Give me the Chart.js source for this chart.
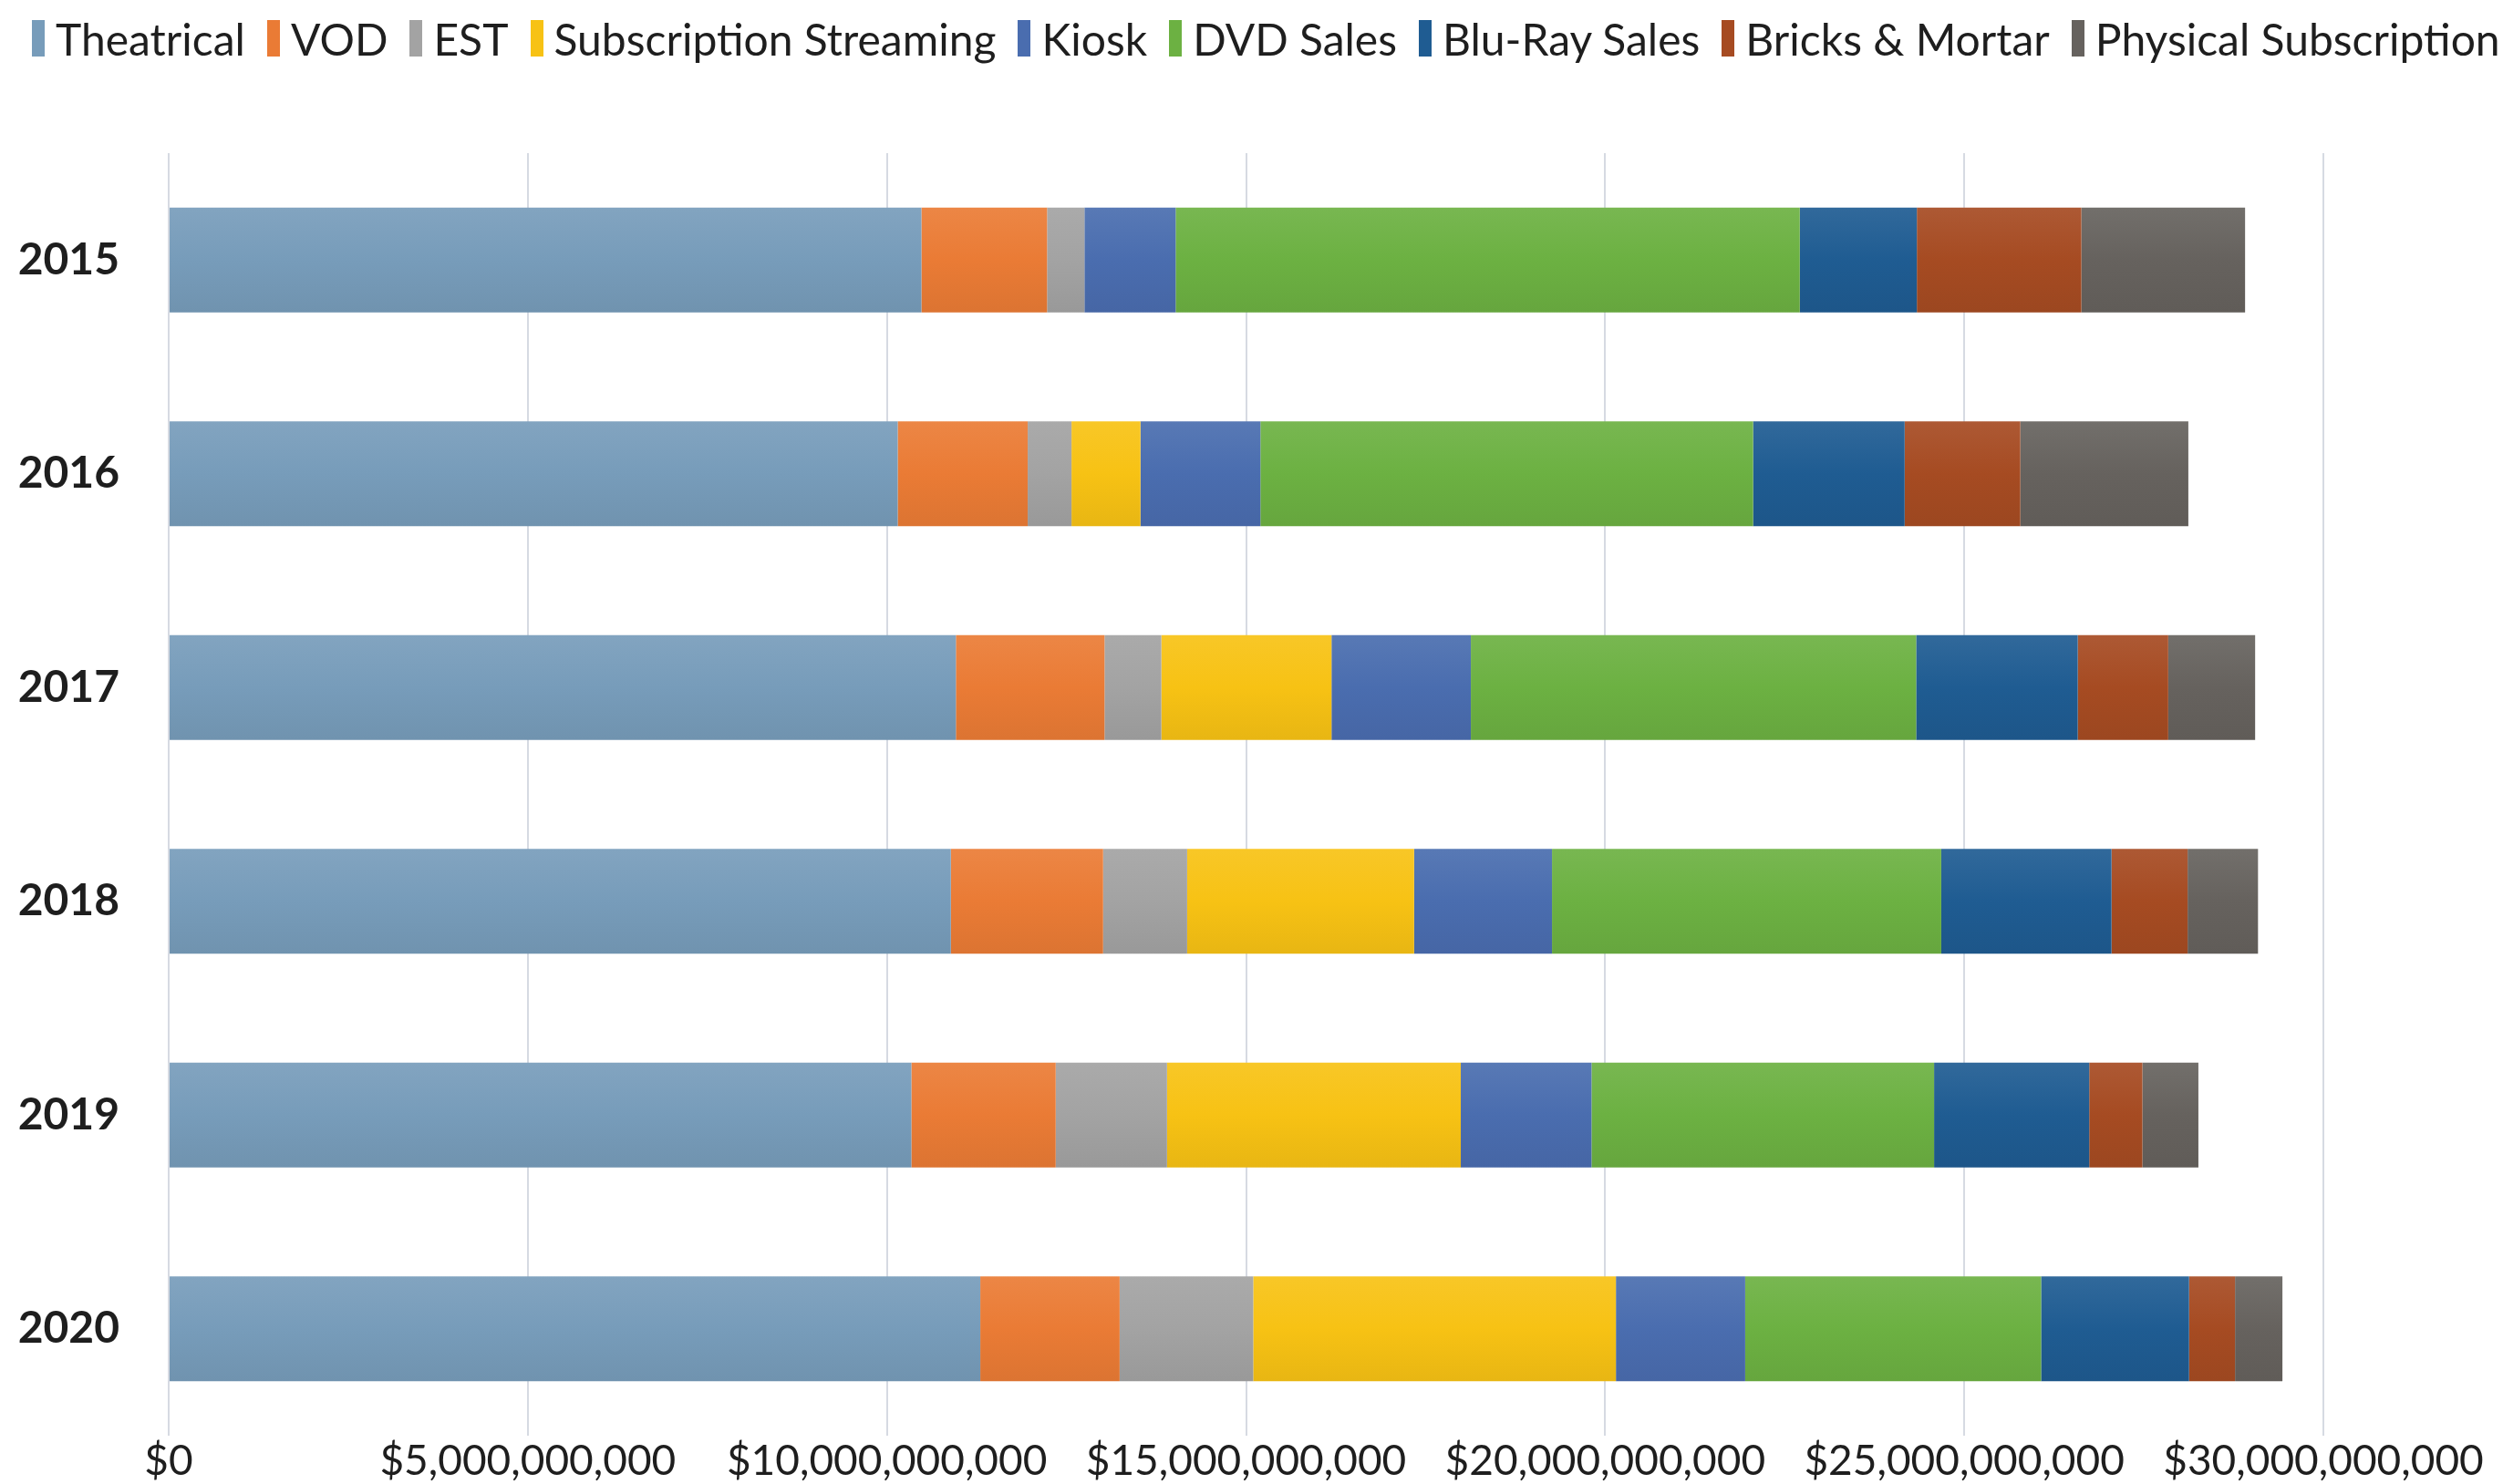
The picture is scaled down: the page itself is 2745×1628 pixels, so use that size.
<!DOCTYPE html>
<html>
<head>
<meta charset="utf-8">
<script src="https://cdn.jsdelivr.net/npm/chart.js@4/dist/chart.umd.min.js"></script>
<style>
html,body{margin:0;padding:0;background:#fff;overflow:hidden;width:2745px;height:1628px}
#wrap{position:relative;width:2745px;height:1628px;overflow:hidden}
canvas{position:absolute;left:0;top:0}
#legend{position:absolute;left:35px;top:10px;height:64px;display:flex;align-items:center;white-space:nowrap;font-family:Lato,'Open Sans',sans-serif;font-size:48px;color:#1e1e1e}
#legend .item{display:flex;align-items:center;margin-right:24px;flex-shrink:0}
#legend .box{width:14px;height:40px;margin-right:12px;flex-shrink:0}
</style>
</head>
<body>
<div id="wrap">
<canvas id="c" width="2745" height="1628"></canvas>
<div id="legend"></div>
</div>
<script>
const categories = ['2015', '2016', '2017', '2018', '2019', '2020'];

const theatrical   = [10480000000, 10150000000, 10960000000, 10890000000, 10340000000, 11300000000];
const vod          = [1750000000, 1810000000, 2070000000, 2120000000, 2010000000, 1940000000];
const est          = [520000000, 610000000, 790000000, 1170000000, 1550000000, 1860000000];
const subscription = [0, 960000000, 2370000000, 3160000000, 4090000000, 5050000000];
const kiosk        = [1270000000, 1670000000, 1940000000, 1920000000, 1820000000, 1800000000];
const dvdSales     = [8690000000, 6860000000, 6200000000, 5420000000, 4770000000, 4120000000];
const bluRaySales  = [1630000000, 2110000000, 2250000000, 2370000000, 2160000000, 2060000000];
const bricksMortar = [2290000000, 1610000000, 1260000000, 1060000000, 740000000, 640000000];
const physicalSub  = [2280000000, 2340000000, 1210000000, 980000000, 780000000, 660000000];

const seriesNames = ['Theatrical', 'VOD', 'EST', 'Subscription Streaming', 'Kiosk', 'DVD Sales', 'Blu-Ray Sales', 'Bricks & Mortar', 'Physical Subscription'];
const seriesValues = [theatrical, vod, est, subscription, kiosk, dvdSales, bluRaySales, bricksMortar, physicalSub];
const seriesColors = ['#779cba', '#ea7b35', '#a3a3a3', '#f7c214', '#4a6daf', '#6cb142', '#1f5c92', '#a64b22', '#66625e'];

const xTicks = [0, 5000000000, 10000000000, 15000000000, 20000000000, 25000000000, 30000000000];

const CAT_PCT = 0.49;

function mix(hex, target, amt) {
  const n = parseInt(hex.slice(1), 16);
  const r = (n >> 16) & 255, g = (n >> 8) & 255, b = n & 255;
  const f = c => Math.round(c + (target - c) * amt);
  return `rgb(${f(r)},${f(g)},${f(b)})`;
}

function barFill(i) {
  return ctx => {
    const base = seriesColors[i];
    const chart = ctx.chart;
    if (ctx.type !== 'data' || !chart.chartArea || !chart.scales.y) return base;
    const ys = chart.scales.y;
    const center = ys.getPixelForValue(ctx.dataIndex);
    const half = ys.height / categories.length * CAT_PCT / 2;
    if (!isFinite(center) || !isFinite(half)) return base;
    const g = chart.ctx.createLinearGradient(0, center - half, 0, center + half);
    g.addColorStop(0, mix(base, 255, 0.08));
    g.addColorStop(0.5, base);
    g.addColorStop(1, mix(base, 0, 0.06));
    return g;
  };
}

const datasets = seriesNames.map((name, i) => ({
  label: name,
  data: seriesValues[i],
  backgroundColor: barFill(i),
  borderWidth: 0,
  barPercentage: 1,
  categoryPercentage: CAT_PCT
}));

const htmlLegend = {
  id: 'htmlLegend',
  afterUpdate(chart) {
    const el = document.getElementById('legend');
    el.innerHTML = '';
    chart.data.datasets.forEach((ds, i) => {
      const d = document.createElement('div');
      d.className = 'item';
      const b = document.createElement('span');
      b.className = 'box';
      b.style.background = seriesColors[i];
      const t = document.createElement('span');
      t.textContent = ds.label;
      d.appendChild(b); d.appendChild(t);
      el.appendChild(d);
    });
  }
};

new Chart(document.getElementById('c'), {
  type: 'bar',
  data: { labels: categories, datasets },
  plugins: [htmlLegend],
  options: {
    indexAxis: 'y',
    responsive: false,
    animation: false,
    devicePixelRatio: 1,
    layout: { padding: { top: 168, left: 21, right: 197, bottom: 0 } },
    plugins: {
      legend: { display: false },
      tooltip: { enabled: false }
    },
    scales: {
      x: {
        stacked: true,
        min: xTicks[0],
        max: xTicks[xTicks.length - 1],
        afterBuildTicks(axis) { axis.ticks = xTicks.map(v => ({ value: v })); },
        afterFit(axis) { axis.height = 53; },
        grid: { color: '#d6dae2', lineWidth: 2, drawTicks: false },
        border: { display: false },
        ticks: {
          color: '#1e1e1e',
          padding: 2,
          maxRotation: 0,
          autoSkip: false,
          font: { family: 'Lato', size: 46, lineHeight: 1.15 },
          callback: v => '$' + Number(v).toLocaleString('en-US')
        }
      },
      y: {
        stacked: true,
        afterFit(axis) { axis.width = 164; axis.paddingTop = 0; axis.paddingBottom = 0; },
        grid: { display: false, drawTicks: false },
        border: { display: false },
        ticks: {
          color: '#1e1e1e',
          padding: 54,
          font: { family: 'Lato', size: 48, weight: 'bold' }
        }
      }
    }
  }
});
</script>
</body>
</html>
